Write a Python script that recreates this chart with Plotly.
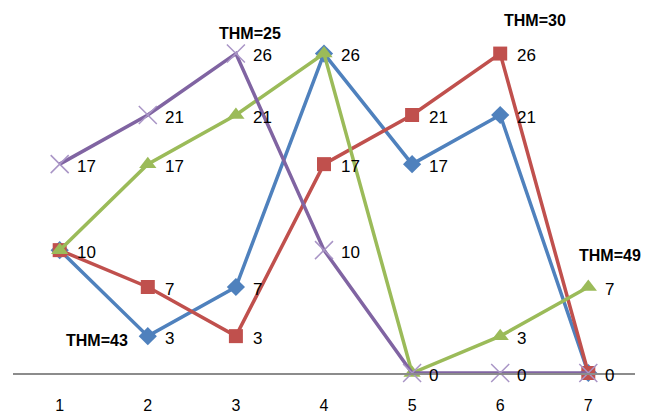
import plotly.graph_objects as go

categories = ["1", "2", "3", "4", "5", "6", "7"]
blue_vals = [10, 3, 7, 26, 17, 21, 0]
red_vals = [10, 7, 3, 17, 21, 26, 0]
green_vals = [10, 17, 21, 26, 0, 3, 7]
purple_vals = [17, 21, 26, 10, 0, 0, 0]

series_names = ["Series1", "Series2", "Series3", "Series4"]
series_vals = [blue_vals, red_vals, green_vals, purple_vals]
series_colors = ["#4F81BD", "#C0504D", "#9BBB59", "#8064A2"]
series_symbols = ["diamond", "square", "triangle-up", "x-thin"]

# THM labels: (text, series index, point index)
thm_texts = ["THM=43", "THM=25", "THM=30", "THM=49"]
thm_series = [0, 3, 1, 2]
thm_points = [1, 2, 5, 6]
thm_offsets = [(-51, -4), (14, 20), (35, 33), (22, 32)]

FONT = "Liberation Sans Narrow, Arial Narrow, Liberation Sans, Arial, sans-serif"

fig = go.Figure()
for name, vals, col, sym in zip(series_names, series_vals, series_colors, series_symbols):
    if sym == "x-thin":
        marker = dict(symbol=sym, size=18, color=col,
                      line=dict(color="#A995C6", width=1.5))
    elif sym == "triangle-up":
        marker = dict(symbol=sym, size=15, color=col)
    else:
        marker = dict(symbol=sym, size=14, color=col)
    fig.add_trace(go.Scatter(
        x=categories, y=vals, name=name, mode="lines+markers",
        line=dict(color=col, width=3.5), marker=marker, cliponaxis=False,
        showlegend=False,
    ))

annotations = []
# data labels, one per distinct value at each category
for i, cat in enumerate(categories):
    seen = set()
    for vals in series_vals:
        v = vals[i]
        if v in seen:
            continue
        seen.add(v)
        annotations.append(dict(
            x=i, y=v, xref="x", yref="y", text=str(v), showarrow=False,
            xanchor="left", yanchor="middle", xshift=15, yshift=-2,
            font=dict(family=FONT, size=17, color="#000000"),
        ))

for txt, si, pi, (dx, dy) in zip(thm_texts, thm_series, thm_points, thm_offsets):
    annotations.append(dict(
        x=pi, y=series_vals[si][pi], xref="x", yref="y",
        text="<b>" + txt + "</b>", showarrow=False,
        xanchor="center", yanchor="middle", xshift=dx, yshift=dy,
        font=dict(family=FONT, size=16, color="#000000"),
    ))

fig.update_layout(
    width=657, height=419,
    margin=dict(l=13, r=22, t=29, b=46),
    paper_bgcolor="white", plot_bgcolor="white",
    annotations=annotations,
    showlegend=False,
)
fig.update_xaxes(
    type="category", range=[-0.53, 6.53], automargin=False,
    showline=True, linecolor="#8C8C8C", linewidth=1.5,
    showgrid=False, zeroline=False, ticks="",
    ticklabelstandoff=17,
    tickfont=dict(family=FONT, size=16, color="#000000"),
)
fig.update_yaxes(
    range=[0, 28], visible=False, showgrid=False, zeroline=False,
    automargin=False,
)

fig.write_html(
    "out.html",
    config={"displayModeBar": False},
    post_script=(
        "var h=document.documentElement,b=document.body;"
        "h.style.margin='0';h.style.padding='0';h.style.height='419px';h.style.overflow='hidden';"
        "b.style.margin='0';b.style.padding='0';b.style.height='419px';b.style.overflow='hidden';"
    ),
)
